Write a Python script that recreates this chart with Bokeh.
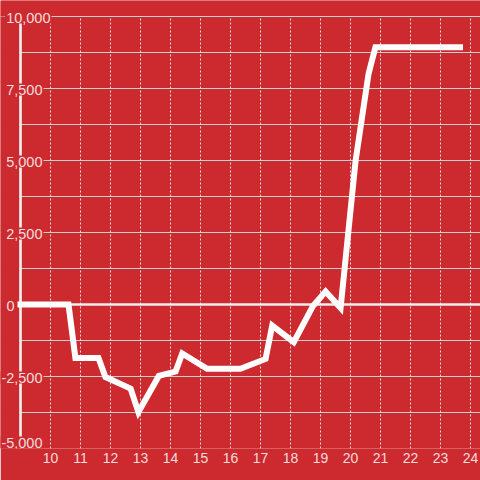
from bokeh.plotting import figure
from bokeh.models import Range1d, FixedTicker, ColumnDataSource
from bokeh.core.properties import value
from bokeh.embed import file_html
from bokeh.resources import INLINE

# ---- data ----
hours = [8.9, 10.6, 10.83, 11.6, 11.83, 12.67, 12.93, 13.61, 14.17, 14.39, 15.22,
         16.33, 17.17, 17.39, 18.11, 18.75, 19.17, 19.67, 20.17, 20.6, 20.83, 23.75]
balance = [0, 0, -1860, -1860, -2520, -2920, -3740, -2480, -2330, -1700, -2235,
           -2235, -1890, -730, -1310, -50, 450, -120, 5000, 8000, 8930, 8930]

x_ticks = [10, 11, 12, 13, 14, 15, 16, 17, 18, 19, 20, 21, 22, 23, 24]
y_grid = [-5000, -3750, -2500, -1250, 0, 1250, 2500, 3750, 5000, 6250, 7500, 8750, 10000]
y_tick_values = [10000, 7500, 5000, 2500, 0, -2500, -5000]
y_tick_labels = ["10,000", "7,500", "5,000", "2,500", "0", "-2,500", "-5,000"]

# ---- styling ----
BG = "#cc2a2f"
LABEL = "#f5dcdc"
FONT = "Liberation Sans"
AXIS_X = 9.0
Y_MIN, Y_MAX = -5000, 10000
UNITS_PER_PX = (Y_MAX - Y_MIN) / 432.0

p = figure(width=480, height=480, output_backend="svg", toolbar_location=None,
           x_range=Range1d(10 - 50 / 30, 24 + 10 / 30),
           y_range=Range1d(Y_MIN, Y_MAX + 16 * UNITS_PER_PX),
           y_axis_location=None,
           min_border_left=0, min_border_right=0, min_border_top=0, min_border_bottom=32,
           background_fill_color=BG, border_fill_color=BG, outline_line_color=None)

# grids
p.xgrid.ticker = FixedTicker(ticks=x_ticks)
p.xgrid.grid_line_color = "#e2e2e2"
p.xgrid.grid_line_dash = "2 2"
p.xgrid.grid_line_width = 1
p.ygrid.ticker = FixedTicker(ticks=y_grid)
p.ygrid.grid_line_color = "#cfcfcf"
p.ygrid.grid_line_width = 1

# x axis
ax = p.xaxis[0]
ax.ticker = FixedTicker(ticks=x_ticks)
ax.axis_line_color = None
ax.major_tick_line_color = None
ax.minor_tick_line_color = None
ax.major_tick_out = 0
ax.major_tick_in = 0
ax.major_label_standoff = 4
ax.major_label_text_color = LABEL
ax.major_label_text_font = FONT
ax.major_label_text_font_size = "14px"

xr = p.x_range
yr = p.y_range
# cover grid lines left of the y axis and above the top grid line
p.quad(left=xr.start, right=AXIS_X, bottom=Y_MIN, top=Y_MAX, fill_color=BG, line_color=None)
p.quad(left=xr.start, right=xr.end, bottom=Y_MAX + 0.6 * UNITS_PER_PX, top=yr.end,
       fill_color=BG, line_color=None)

# zero line and y axis line
p.segment(x0=AXIS_X, x1=xr.end, y0=0, y1=0, line_color="#eeeeee", line_width=2.7)
p.segment(x0=AXIS_X, x1=AXIS_X, y0=Y_MIN, y1=Y_MAX, line_color="#eeeeee", line_width=2.7)

# data line
p.line(hours, balance, line_color="white", line_width=6, line_join="miter", line_cap="butt")

# y tick labels
label_dx = [31, 23, 23, 23, -5, 23, 23]
label_dy = [1, 1, 1, 1, 1, 1, -6]
src = ColumnDataSource(dict(y=y_tick_values, text=y_tick_labels, dx=label_dx, dy=label_dy))
p.text(x=AXIS_X, y="y", text="text", x_offset="dx", y_offset="dy", source=src,
       text_align="right", text_baseline="middle", text_font=value(FONT),
       text_font_size="14.5px", text_color=LABEL,
       background_fill_color=BG, padding=1)

open("out.html", "w").write(file_html(p, INLINE))
